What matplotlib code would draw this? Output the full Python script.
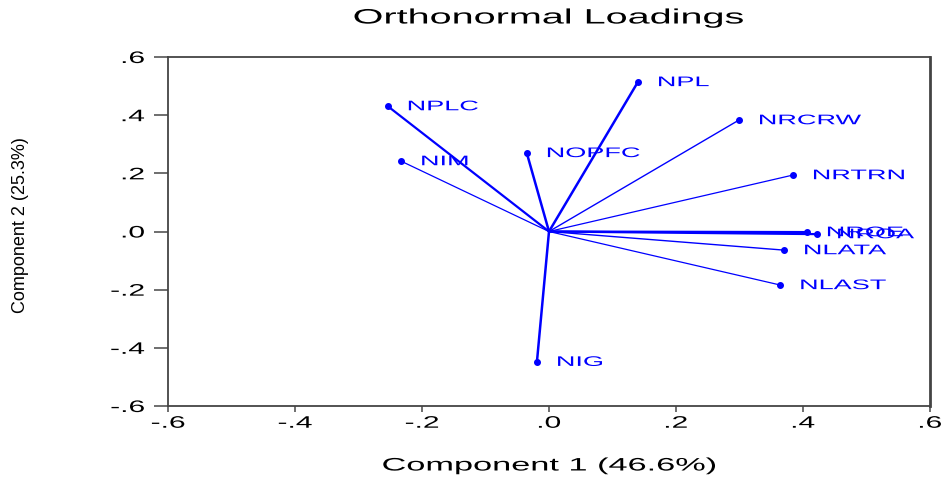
import numpy as np
import matplotlib.pyplot as plt
from matplotlib.ticker import FuncFormatter
from matplotlib.patheffects import AbstractPathEffect
from matplotlib.transforms import Affine2D

plt.rcParams["font.family"] = ["Liberation Sans", "DejaVu Sans"]

# loadings on the first two components
names = ["NPL", "NPLC", "NIM", "NOPFC", "NRCRW", "NRTRN", "NROE", "NROA", "NLATA", "NLAST", "NIG"]
comp1 = [0.140, -0.254, -0.233, -0.035, 0.299, 0.384, 0.406, 0.422, 0.370, 0.364, -0.019]
comp2 = [0.514, 0.431, 0.242, 0.270, 0.383, 0.194, -0.002, -0.009, -0.064, -0.184, -0.448]
ticks = [-0.6, -0.4, -0.2, 0.0, 0.2, 0.4, 0.6]

# line weights per vector
widths = [1.8, 1.6, 0.9, 1.8, 1.0, 0.9, 1.6, 1.6, 1.0, 0.9, 1.8]

blue = "#0000ff"


class Widen(AbstractPathEffect):
    """Stretch glyph outlines along the text direction."""

    def __init__(self, sx, align="left"):
        super().__init__()
        self.sx = sx
        self.align = align

    def draw_path(self, renderer, gc, tpath, affine, rgbFace=None):
        ext = tpath.get_extents()
        a = {"left": ext.x0, "center": 0.5 * (ext.x0 + ext.x1), "right": ext.x1}[self.align]
        tr = Affine2D().translate(-a, 0).scale(self.sx, 1).translate(a, 0) + affine
        renderer.draw_path(gc, tpath, tr, rgbFace)


fig = plt.figure(figsize=(9.42, 4.79), dpi=100)
ax = fig.add_axes([168/942, 1-406/479, (930-168)/942, (406-57)/479])

for nm, x, y, w in zip(names, comp1, comp2, widths):
    ax.plot([0, x], [0, y], color=blue, lw=w, solid_capstyle="round")
    ax.plot(x, y, "o", color=blue, ms=4)
    t = ax.annotate(nm, (x, y), xytext=(14.4, 1), textcoords="offset points",
                    ha="left", va="center_baseline", color=blue, fontsize=10)
    t.set_path_effects([Widen(1.95, "left")])

ax.set_xlim(-0.6, 0.6)
ax.set_ylim(-0.6, 0.6)
ax.set_xticks(ticks)
ax.set_yticks(ticks)

fmt = FuncFormatter(lambda v, p: ("-" if v < -1e-9 else "") + ("%.1f" % abs(v)).lstrip("0"))
ax.xaxis.set_major_formatter(fmt)
ax.yaxis.set_major_formatter(fmt)
ax.tick_params(direction="out", width=1.2, color="#555555", labelsize=12)
ax.tick_params(axis="x", length=4.5, pad=2.5)
ax.tick_params(axis="y", length=10, pad=7)
for tk in ax.xaxis.get_major_ticks():
    tk.label1.set_path_effects([Widen(1.8, "center")])
for tk in ax.yaxis.get_major_ticks():
    tk.label1.set_path_effects([Widen(1.8, "right")])
for sp in ax.spines.values():
    sp.set_color("#444444")
    sp.set_linewidth(1.3)
ax.spines["right"].set_linewidth(2)

title = fig.text(549/942, 1-18/479, "Orthonormal Loadings", ha="center", va="center", fontsize=15)
title.set_path_effects([Widen(1.9, "center")])
xl = fig.text(549/942, 1-466/479, "Component 1 (46.6%)", ha="center", va="center", fontsize=13)
xl.set_path_effects([Widen(1.9, "center")])
fig.text(21/942, 1-225/479, "Component 2 (25.3%)", ha="center", va="center",
         rotation=90, fontsize=13)

fig.savefig("out.png", dpi=100)
